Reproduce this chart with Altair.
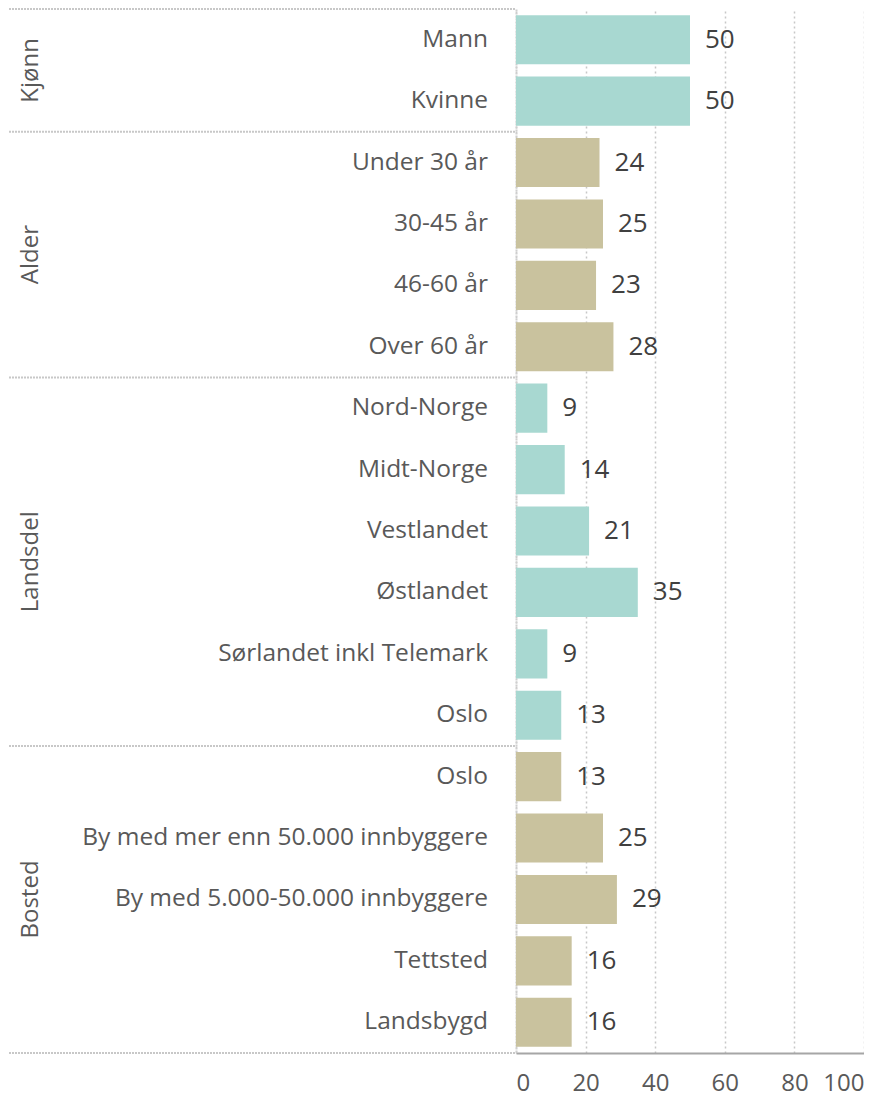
import altair as alt
import pandas as pd

groups = ["Kjønn", "Alder", "Landsdel", "Bosted"]
group_sizes = [2, 4, 6, 5]
categories = [
    "Mann", "Kvinne",
    "Under 30 år", "30-45 år", "46-60 år", "Over 60 år",
    "Nord-Norge", "Midt-Norge", "Vestlandet", "Østlandet", "Sørlandet inkl Telemark", "Oslo",
    "Oslo", "By med mer enn 50.000 innbyggere", "By med 5.000-50.000 innbyggere", "Tettsted", "Landsbygd",
]
values = [50, 50, 24, 25, 23, 28, 9, 14, 21, 35, 9, 13, 13, 25, 29, 16, 16]
group_colors = ["#A8D8D1", "#C9C29E", "#A8D8D1", "#C9C29E"]
x_ticks = [0, 20, 40, 60, 80, 100]

FONT = "Open Sans"
N = len(categories)

rows = []
grows = []
i = 0
for g, n in zip(groups, group_sizes):
    grows.append(dict(group=g, start=i, end=i + n, center=i + n / 2))
    for _ in range(n):
        rows.append(dict(key=f"{i:02d}", pos=i + 0.5, group=g,
                         category=categories[i], value=values[i]))
        i += 1
df = pd.DataFrame(rows)
gdf = pd.DataFrame(grows)
bounds = pd.DataFrame({"b": [0] + [r["end"] for r in grows]})

H = 1044
LW = 506
RW = 348


def qscale():
    return alt.Scale(domain=[0, N], reverse=True, nice=False, zero=False)


cat_text = alt.Chart(df).mark_text(
    align="right", baseline="middle", font=FONT, fontSize=24.5, color="#595959"
).encode(x=alt.value(LW - 27), y=alt.Y("pos:Q", scale=qscale(), axis=None), text="category:N")

grp_text = alt.Chart(gdf).mark_text(
    align="center", baseline="middle", angle=270, font=FONT, fontSize=24, color="#595959"
).encode(x=alt.value(22), y=alt.Y("center:Q", scale=qscale(), axis=None), text="group:N")

seps = alt.Chart(bounds).mark_rule(color="#C8C8C8", strokeWidth=2, strokeDash=[2, 1]).encode(
    x=alt.value(0), x2=alt.value(LW),
    y=alt.Y("b:Q", scale=qscale(), axis=None),
)

left = alt.layer(seps, grp_text, cat_text).properties(width=LW, height=H)

yb = alt.Y("key:O", sort=None,
           scale=alt.Scale(paddingInner=0.2, paddingOuter=0.1),
           axis=alt.Axis(labels=False, ticks=False, title=None, grid=False,
                         domainColor="#CFCFCF", domainWidth=2, domainDash=[2, 1]))
xq = alt.X("value:Q", scale=alt.Scale(domain=[0, 100], nice=False),
           axis=alt.Axis(values=x_ticks, title=None, ticks=False, labelPadding=18,
                         labelFlush=True, labelOverlap=False,
                         labelFont=FONT, labelFontSize=24, labelColor="#595959",
                         domainColor="#A6A6A6", domainWidth=2,
                         grid=True, gridColor="#C8C8C8", gridDash=[2, 3], gridWidth=1.5))

bars = alt.Chart(df).mark_bar().encode(
    x=xq, y=yb,
    color=alt.Color("group:N", scale=alt.Scale(domain=groups, range=group_colors), legend=None),
)
labels = alt.Chart(df).mark_text(
    align="left", baseline="middle", dx=15, font=FONT, fontSize=26, color="#404040"
).encode(x="value:Q", y=alt.Y("key:O", sort=None), text="value:Q")

right = alt.layer(bars, labels).properties(width=RW, height=H)

chart = alt.hconcat(left, right, spacing=0).properties(
    padding={"left": 0, "top": 0, "right": 0, "bottom": 8}
).configure_view(stroke=None).configure_concat(spacing=0)

chart.save("out.html", embed_options={"renderer": "svg", "actions": False})
